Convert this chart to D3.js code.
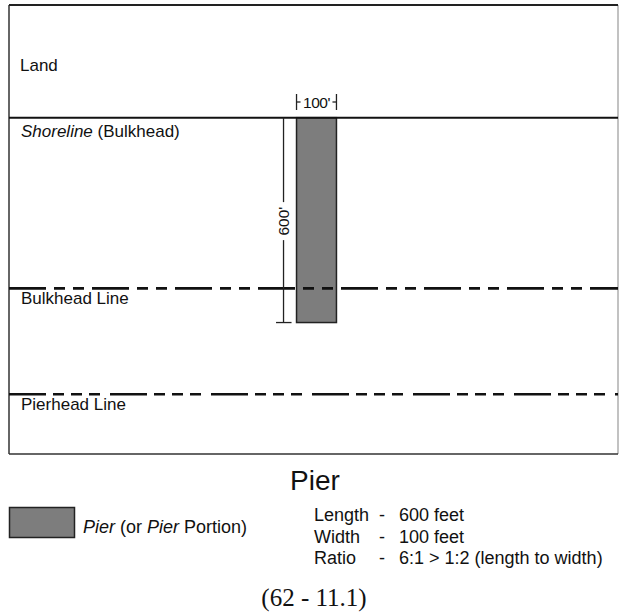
<!DOCTYPE html>
<html><head><meta charset="utf-8">
<script src="https://cdn.jsdelivr.net/npm/d3@7"></script>
<style>html,body{margin:0;padding:0;background:#fff;}svg{display:block;}</style>
</head><body>
<script>
// ---- data ----
const lineNames = ["Shoreline", "Bulkhead Line", "Pierhead Line"];
const lineDepthsFt = [0, 500, 810];          // distance waterward from shoreline (feet)
const lineStyles = ["solid", "bulkhead", "pierhead"];
const pierLengthFt = 600;
const pierWidthFt = 100;
const pierOffsetFt = 720;                     // from left edge of map
const landLabel = "Land";
const pierDims = ["Length", "Width", "Ratio"];
const pierDimValues = ["600 feet", "100 feet", "6:1 > 1:2 (length to width)"];
const figTitle = "Pier";
const figNumber = "(62 - 11.1)";

const W = 619, H = 613;
const svg = d3.select("body").append("svg").attr("width", W).attr("height", H);
const sans = "'Liberation Sans', Arial, Helvetica, sans-serif";

const x = d3.scaleLinear().domain([0, 1525]).range([9, 618]);
const y = d3.scaleLinear().domain([-330, 985]).range([5, 454]);

// frame
const x0 = x(0), x1 = x(1525), yTop = y(-330), yBot = y(985);
svg.append("line").attr("x1", x0).attr("x2", x0).attr("y1", yTop).attr("y2", yBot).attr("stroke", "#333").attr("stroke-width", 1.5);
svg.append("line").attr("x1", x1).attr("x2", x1).attr("y1", yTop).attr("y2", yBot).attr("stroke", "#999").attr("stroke-width", 1.2);
svg.append("line").attr("x1", x0).attr("x2", x1).attr("y1", yTop).attr("y2", yTop).attr("stroke", "#222").attr("stroke-width", 2);
svg.append("line").attr("x1", x0).attr("x2", x1).attr("y1", yBot).attr("y2", yBot).attr("stroke", "#333").attr("stroke-width", 1.5);

svg.append("text").attr("x", 20).attr("y", 71).attr("font-family", sans).attr("font-size", 17).attr("fill", "#111").text(landLabel);

// pier
const px0 = x(pierOffsetFt), px1 = x(pierOffsetFt + pierWidthFt);
const py0 = y(0), py1 = y(pierLengthFt);
svg.append("rect").attr("x", px0).attr("y", py0).attr("width", px1 - px0).attr("height", py1 - py0)
  .attr("fill", "#7d7d7d").attr("stroke", "#222").attr("stroke-width", 1.5);

// lines
const dashes = { solid: null, bulkhead: "37,8,11,8,11,8", pierhead: "37,7,11,7,11,7,11,10" };
lineDepthsFt.forEach((d, i) => {
  const yy = y(d);
  svg.append("line").attr("x1", x0).attr("x2", x1).attr("y1", yy).attr("y2", yy)
    .attr("stroke", "#111").attr("stroke-width", i === 0 ? 2 : 2.6)
    .attr("stroke-dasharray", dashes[lineStyles[i]]);
});
// line labels
const t0 = svg.append("text").attr("x", 21).attr("y", y(lineDepthsFt[0]) + 19).attr("font-family", sans).attr("font-size", 17).attr("fill", "#111");
t0.append("tspan").attr("font-style", "italic").text(lineNames[0]);
t0.append("tspan").text(" (Bulkhead)");
[1, 2].forEach(i => {
  svg.append("text").attr("x", 21).attr("y", y(lineDepthsFt[i]) + 16).attr("font-family", sans).attr("font-size", 17).attr("fill", "#111").text(lineNames[i]);
});

// dimension: length
const dx = px0 - 13;
const labY = (py0 + py1) / 2 + 1;
svg.append("line").attr("x1", dx).attr("x2", dx).attr("y1", py0).attr("y2", labY - 19).attr("stroke", "#222").attr("stroke-width", 1.3);
svg.append("line").attr("x1", dx).attr("x2", dx).attr("y1", labY + 19).attr("y2", py1).attr("stroke", "#222").attr("stroke-width", 1.3);
svg.append("line").attr("x1", dx - 7.5).attr("x2", dx + 8).attr("y1", py1).attr("y2", py1).attr("stroke", "#222").attr("stroke-width", 1.3);
svg.append("text").attr("transform", `translate(${dx + 5.5},${labY}) rotate(-90)`).attr("text-anchor", "middle")
  .attr("font-family", sans).attr("font-size", 15.5).attr("fill", "#111").text(pierLengthFt + "'");

// dimension: width
const wy = 102;
[px0, px1].forEach(xx => {
  svg.append("line").attr("x1", xx).attr("x2", xx).attr("y1", wy - 8).attr("y2", wy + 8).attr("stroke", "#222").attr("stroke-width", 1.3);
});
svg.append("line").attr("x1", px0).attr("x2", px0 + 4).attr("y1", wy).attr("y2", wy).attr("stroke", "#222").attr("stroke-width", 1.3);
svg.append("line").attr("x1", px1 - 4).attr("x2", px1).attr("y1", wy).attr("y2", wy).attr("stroke", "#222").attr("stroke-width", 1.3);
svg.append("text").attr("x", (px0 + px1) / 2).attr("y", wy + 5.5).attr("text-anchor", "middle")
  .attr("font-family", sans).attr("font-size", 15.5).attr("fill", "#111").attr("letter-spacing", -0.5).text(pierWidthFt + "'");

// title
svg.append("text").attr("x", 315).attr("y", 490).attr("text-anchor", "middle").attr("font-family", sans).attr("font-size", 28).attr("fill", "#111").text(figTitle);

// legend
svg.append("rect").attr("x", 9.5).attr("y", 507.5).attr("width", 65).attr("height", 30)
  .attr("fill", "#7d7d7d").attr("stroke", "#222").attr("stroke-width", 1.5);
const lt = svg.append("text").attr("x", 83).attr("y", 533).attr("font-family", sans).attr("font-size", 18).attr("fill", "#111");
lt.append("tspan").attr("font-style", "italic").text("Pier");
lt.append("tspan").text(" (or ");
lt.append("tspan").attr("font-style", "italic").text("Pier");
lt.append("tspan").text(" Portion)");

pierDims.forEach((d, i) => {
  const yy = 521 + i * 21.5;
  svg.append("text").attr("x", 314).attr("y", yy).attr("font-family", sans).attr("font-size", 18).attr("fill", "#111").text(d);
  svg.append("text").attr("x", 379).attr("y", yy).attr("font-family", sans).attr("font-size", 18).attr("fill", "#111").text("-");
  svg.append("text").attr("x", 399).attr("y", yy).attr("font-family", sans).attr("font-size", 18).attr("fill", "#111").text(pierDimValues[i]);
});

svg.append("text").attr("x", 314).attr("y", 606).attr("text-anchor", "middle").attr("font-family", "'Liberation Serif', 'Times New Roman', serif")
  .attr("font-size", 25).attr("fill", "#111").text(figNumber);
</script>
</body></html>
